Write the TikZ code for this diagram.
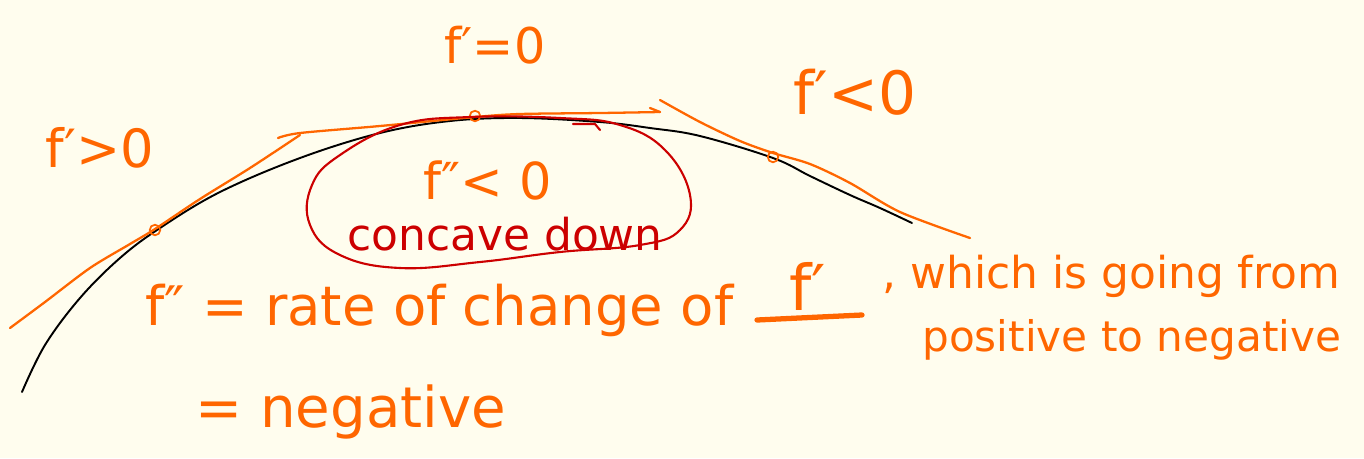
\documentclass[tikz,border=0pt]{standalone}
\usepackage{fontspec}
\setmainfont{DejaVu Sans}
\definecolor{inkorange}{RGB}{255,102,0}
\definecolor{inkred}{RGB}{204,0,0}
\definecolor{paper}{RGB}{255,253,238}
\usetikzlibrary{positioning}
\begin{document}
\begin{tikzpicture}[x=0.02cm, y=-0.02cm,
  note/.style={text=inkorange, inner sep=0pt, font=\fontsize{#1}{#1}\selectfont},
  rednote/.style={note=#1, text=inkred},
  pen/.style={draw=inkorange, line width=1.3pt, line cap=round, line join=round},
  redpen/.style={draw=inkred, line width=1.2pt, line cap=round, line join=round},
  curve/.style={draw=black, line width=1.1pt, line cap=round},
  touch/.style={circle, draw=inkorange, line width=1pt, inner sep=0pt, minimum size=6pt}]
\fill[paper] (0,0) rectangle (1364,458);
\useasboundingbox (0,0) rectangle (1364,458);

% the function
\draw[curve] plot[smooth, tension=0.6] coordinates {(22,392) (45,345) (80,298) (120,258) (160,228)
  (220,192) (300,158) (380,133) (450,121) (520,118) (600,122) (650,128) (700,136) (773,158)
  (810,176) (850,195) (880,208) (912,223)};

% tangent lines
\draw[pen] plot[smooth] coordinates {(10,328) (45,302) (90,268) (130,244) (155,229) (200,199) (250,168) (300,135)};
\draw[pen] plot[smooth] coordinates {(278,138) (300,133) (380,126) (475,117) (520,114) (600,113) (660,112)};
\draw[pen] (650,108) -- (660,112);
\draw[pen] plot[smooth, tension=0.5] coordinates {(660,100) (700,122) (740,141) (773,153) (810,164) (850,183) (900,212) (970,238)};

% tangent points
\node[touch] (tleft) at (155,230) {};
\node[touch] (ttop) at (475,116) {};
\node[touch] (tright) at (773,157) {};

% region of concavity
\draw[redpen] plot[smooth cycle, tension=0.7] coordinates {(400,125) (470,117) (560,118) (620,125)
  (665,150) (690,195) (680,230) (640,245) (560,252) (480,262) (400,268) (340,255) (310,225)
  (312,185) (340,155)};
\draw[redpen] (573,124) -- (595,124) -- (600,130);

% labels
\node[note=30] (fpos) at (100,148) {f′>0};
\node[note=28] (fzero) at (495,45) {f′=0};
\node[note=34] (fneg) at (855,92) {f′<0};
\node[note=29] (fsecond) at (488,180) {f″< 0};
\node[rednote=25] (concave) at (505,234) {concave down};
\node[note=31, anchor=west] (rate) at (145,310) {f″ = rate of change of};
\node[note=36] (fprime) at (808,286) {f′};
\draw[inkorange, line width=3pt, line cap=round] (757,320) -- (862,315);
\node[note=25, anchor=west] (going) at (882,276) {, which is going from};
\node[note=24, anchor=west] (posneg) at (922,340) {positive to negative};
\node[note=32, anchor=west] (negative) at (195,412) {= negative};
\end{tikzpicture}
\end{document}
